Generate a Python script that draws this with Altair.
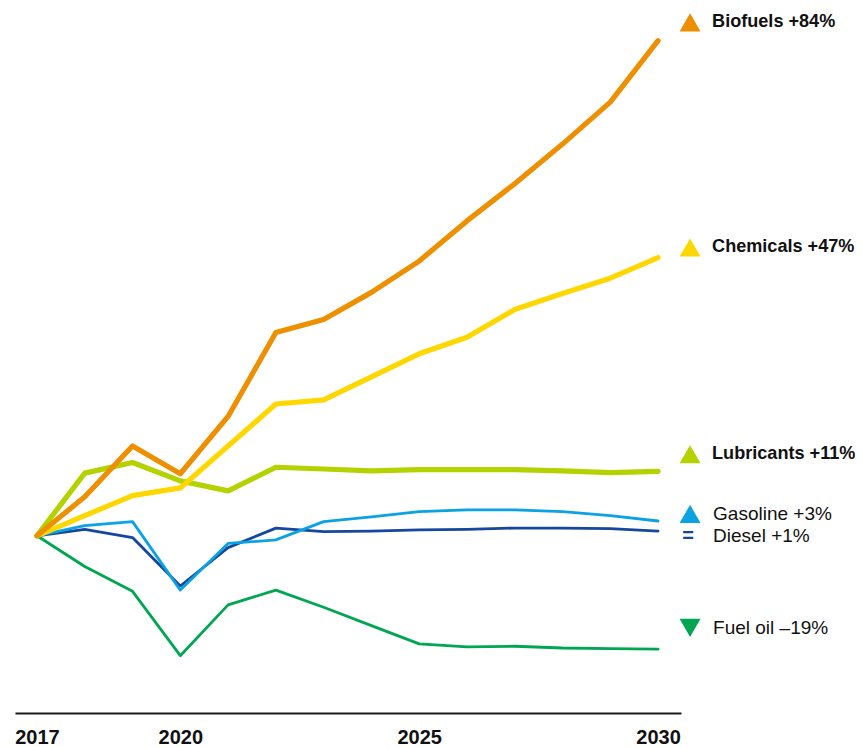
import altair as alt
import pandas as pd

years = list(range(2017, 2031))

biofuels = [100, 106.6, 115.2, 110.5, 120.2, 134.4, 136.6, 141.2, 146.5, 153.3, 159.6, 166.3, 173.4, 183.8]
chemicals = [100, 103.4, 106.8, 108.1, 115.2, 122.3, 123.0, 126.9, 130.8, 133.6, 138.3, 141.0, 143.6, 147.1]
lubricants = [100, 110.6, 112.4, 109.3, 107.6, 111.6, 111.3, 111.0, 111.2, 111.2, 111.2, 111.0, 110.7, 110.9]
gasoline = [100, 101.7, 102.4, 90.8, 98.7, 99.3, 102.4, 103.2, 104.1, 104.4, 104.4, 104.1, 103.4, 102.5]
diesel = [100, 101.1, 99.7, 91.5, 98.0, 101.3, 100.7, 100.8, 101.0, 101.1, 101.3, 101.3, 101.2, 100.8]
fuel_oil = [100, 94.8, 90.6, 79.7, 88.3, 90.8, 87.9, 84.8, 81.7, 81.2, 81.3, 81.0, 80.9, 80.8]

series_names = ["Fuel oil", "Diesel", "Gasoline", "Lubricants", "Chemicals", "Biofuels"]
series_values = [fuel_oil, diesel, gasoline, lubricants, chemicals, biofuels]

label_names = ["Biofuels", "Chemicals", "Lubricants", "Gasoline", "Diesel", "Fuel oil"]
label_texts = ["Biofuels +84%", "Chemicals +47%", "Lubricants +11%", "Gasoline +3%", "Diesel +1%", "Fuel oil \u201319%"]
label_values = [186.9, 148.8, 113.8, 103.7, 99.9, 84.4]
label_bold = [True, True, True, False, False, False]
label_marker = ["triangle-up", "triangle-up", "triangle-up", "triangle-up", "=", "triangle-down"]

tick_years = [2017, 2020, 2025, 2030]

colors = {
    "Biofuels": "#EE8F00",
    "Chemicals": "#FFD700",
    "Lubricants": "#B3D200",
    "Gasoline": "#0BA2E2",
    "Diesel": "#15479C",
    "Fuel oil": "#00A651",
}
thick = {"Biofuels", "Chemicals", "Lubricants"}

FONT = "Liberation Sans"

x_scale = alt.Scale(domain=[2016.54, 2030.48], nice=False, zero=False)
y_scale = alt.Scale(domain=[70, 189], nice=False, zero=False)

x_axis = alt.Axis(values=tick_years, format="d", title=None, grid=False,
                  ticks=False, labelFontSize=20, labelFontWeight="bold",
                  labelFont=FONT, labelColor="#111111", domainColor="#1a1a1a",
                  domainWidth=2, labelPadding=14, labelFlush=False)


def X():
    return alt.X("year:Q", scale=x_scale, axis=x_axis)


def Y():
    return alt.Y("value:Q", scale=y_scale, axis=None)


rows = []
for name, vals in zip(series_names, series_values):
    for yr, v in zip(years, vals):
        rows.append({"series": name, "year": yr, "value": v})
df = pd.DataFrame(rows)

layers = []
for name in series_names:
    sw = 5.2 if name in thick else 2.8
    layers.append(
        alt.Chart(df).transform_filter(alt.datum.series == name).mark_line(
            color=colors[name], strokeWidth=sw, strokeCap="round", strokeJoin="round"
        ).encode(x=X(), y=Y())
    )

lab = pd.DataFrame({
    "name": label_names,
    "text": label_texts,
    "value": label_values,
    "bold": label_bold,
    "marker": label_marker,
    "year": [2030] * len(label_names),
})

color_scale = alt.Scale(domain=list(colors.keys()), range=list(colors.values()))

tri_up = alt.Chart(lab).transform_filter(alt.datum.marker == "triangle-up").mark_point(
    shape="triangle-up", filled=True, size=440, opacity=1, xOffset=32
).encode(x=X(), y=Y(), color=alt.Color("name:N", scale=color_scale, legend=None))

tri_down = alt.Chart(lab).transform_filter(alt.datum.marker == "triangle-down").mark_point(
    shape="triangle-down", filled=True, size=440, opacity=1, xOffset=32
).encode(x=X(), y=Y(), color=alt.Color("name:N", scale=color_scale, legend=None))

eq = alt.Chart(lab).transform_filter(alt.datum.marker == "=").mark_text(
    text="=", font=FONT, fontSize=20, fontWeight="bold", align="center", baseline="middle", dx=30
).encode(x=X(), y=Y(), color=alt.Color("name:N", scale=color_scale, legend=None))

txt_bold = alt.Chart(lab).transform_filter(alt.datum.bold == True).mark_text(
    font=FONT, fontSize=18.1, fontWeight="bold", align="left", baseline="middle", dx=54, color="#111111"
).encode(x=X(), y=Y(), text="text:N")

txt_reg = alt.Chart(lab).transform_filter(alt.datum.bold == False).mark_text(
    font=FONT, fontSize=19, fontWeight="normal", align="left", baseline="middle", dx=55, color="#111111"
).encode(x=X(), y=Y(), text="text:N")

chart = alt.layer(*layers, tri_up, tri_down, eq, txt_bold, txt_reg).properties(
    width=666, height=703,
    autosize=alt.AutoSizeParams(type="none"),
    padding={"left": 7, "top": 2, "right": 174, "bottom": 42},
    background="white",
).configure_view(stroke=None)

chart.save("out.html", embed_options={"renderer": "svg", "actions": False})
